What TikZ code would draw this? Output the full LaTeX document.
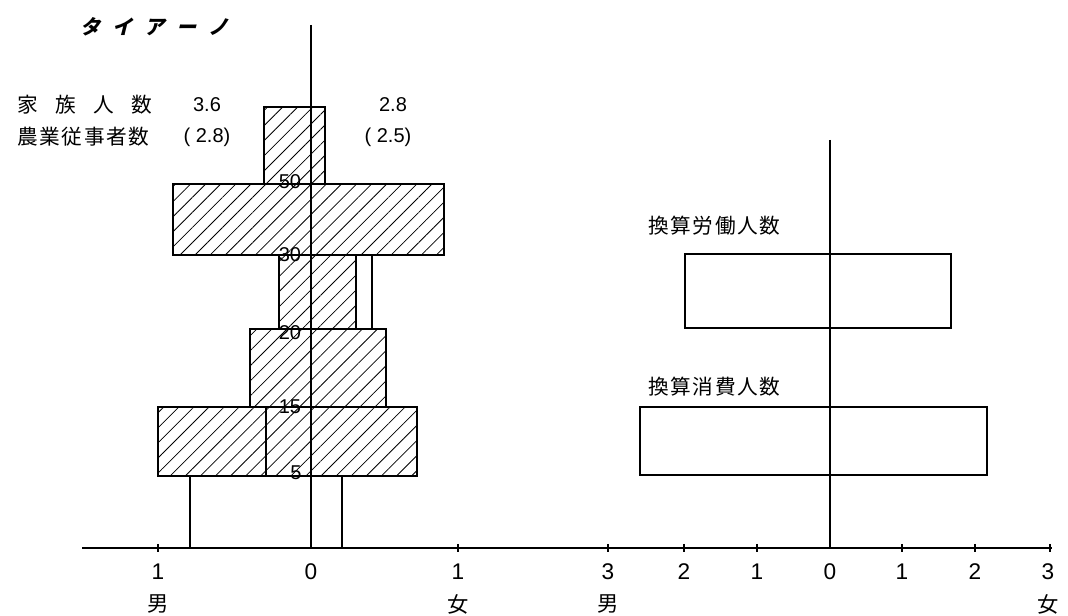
\documentclass[tikz,border=0pt]{standalone}
\usepackage{fontspec}
\usetikzlibrary{patterns.meta}
\newfontfamily\jp[LetterSpace=8]{Noto Sans CJK JP}
\newfontfamily\jpsl[FakeSlant=0.25]{Noto Sans CJK JP}
\newfontfamily\num{Liberation Sans}
\begin{document}
\begin{tikzpicture}[x=0.75pt, y=-0.75pt,
  bar/.style={draw, line width=1.1pt},
  hatch/.style={pattern={Lines[angle=45,distance=8pt,line width=0.6pt]}},
  ax/.style={line width=1.1pt},
  jlab/.style={inner sep=0pt, anchor=west, font=\jp\fontsize{15.5}{15.5}\selectfont},
  val/.style={inner sep=0pt, font=\num\fontsize{15}{15}\selectfont},
  age/.style={inner sep=0pt, font=\num\fontsize{15}{15}\selectfont},
  tick/.style={inner sep=0pt, font=\num\fontsize{17}{17}\selectfont},
  sex/.style={inner sep=0pt, font=\jp\fontsize{16}{16}\selectfont}]
\useasboundingbox (0,0) rectangle (1068,616);

% left: age pyramid
\draw[bar, hatch] (264,107) rectangle (325,184);
\draw[bar, hatch] (173,184) rectangle (444,255);
\draw[bar, hatch] (279,255) rectangle (356,329);
\draw[bar] (356,255) rectangle (372,329);
\draw[bar, hatch] (250,329) rectangle (386,407);
\draw[bar, hatch] (158,407) rectangle (417,476);
\draw[bar] (266,407) -- (266,476);
\draw[bar] (190,476) rectangle (342,548);

% right: labour / consumption units
\draw[bar] (685,254) rectangle (951,328);
\draw[bar] (640,407) rectangle (987,475);

% axes
\coordinate (ctrL) at (311,25);
\coordinate (ctrR) at (830,140);
\coordinate (axL) at (82,548);
\coordinate (axR) at (1052,548);
\draw[ax] (ctrL) -- (311,548);
\draw[ax] (ctrR) -- (830,548);
\draw[ax] (axL) -- (axR);
\foreach \x in {158,458,608,684,757,902,975,1050}
  \draw[ax] (\x,544) -- (\x,552);

\node[inner sep=0pt, anchor=west, font=\jpsl\bfseries\fontsize{15}{15}\selectfont] (title) at (80,27)
  {タ\hspace{9pt}イ\hspace{9pt}ア\hspace{9pt}ー\hspace{9pt}ノ};
\node[jlab] (famlab) at (17,105) {家\hspace{0.85em}族\hspace{0.85em}人\hspace{0.85em}数};
\node[jlab] (farmlab) at (17,137) {農業従事者数};
\node[val] (famM) at (207,105) {3.6};
\node[val] (famF) at (393,105) {2.8};
\node[val] (farmM) at (207,137) {( 2.8)};
\node[val] (farmF) at (388,137) {( 2.5)};

\foreach \y/\t in {182/50,255/30,333/20,407/15}
  \node[age] (age\t) at (290,\y) {\t};
\node[age] (age5) at (296,473) {5};

\node[jlab] (labour) at (648,226) {換算労働人数};
\node[jlab] (consume) at (648,387) {換算消費人数};

\foreach \x/\t in {158/1,311/0,458/1,608/3,684/2,757/1,830/0,902/1,975/2,1048/3}
  \node[tick] (n\x) at (\x,572) {\t};
\node[sex] (male1) at (158,604) {男};
\node[sex] (fem1) at (458,604) {女};
\node[sex] (male2) at (608,604) {男};
\node[sex] (fem2) at (1048,604) {女};
\end{tikzpicture}
\end{document}
